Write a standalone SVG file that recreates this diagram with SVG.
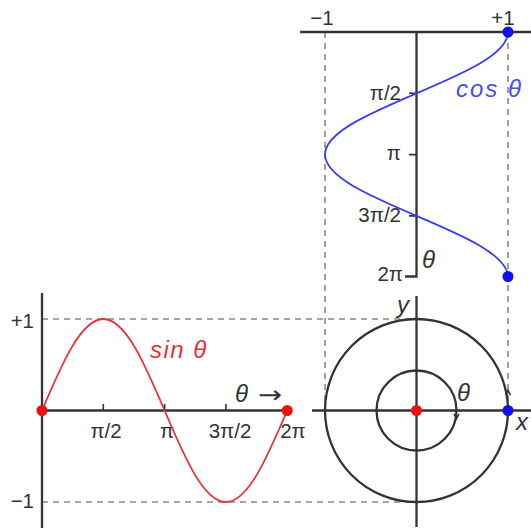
<svg xmlns="http://www.w3.org/2000/svg" width="531" height="530" viewBox="0 0 531 530">
<style>
.ax{stroke:#333;stroke-width:2.3;fill:none}
.tk{stroke:#333;stroke-width:1.6;fill:none}
.dash{stroke:#888;stroke-width:1.6;stroke-dasharray:6 5;fill:none}
.lbl{font-family:"Liberation Sans",Arial,sans-serif;font-size:20.5px;fill:#333}
.it{font-family:"Liberation Sans",Arial,sans-serif;font-size:24px;font-style:italic;fill:#333}
.arr{font-family:"DejaVu Sans",sans-serif;font-size:24px;fill:#333}
.sinc{stroke:#e8303a;stroke-width:1.8;fill:none}
.cosc{stroke:#3c3cf0;stroke-width:1.8;fill:none}
.rdot{fill:#ee1111}
.bdot{fill:#1111ee}
</style>
<rect width="531" height="530" fill="#fff"/>
<g id="guides">
<line class="dash" x1="42" y1="319" x2="416.5" y2="319"/>
<line class="dash" x1="42" y1="502" x2="416.5" y2="502"/>
<line class="dash" x1="325" y1="32" x2="325" y2="410.5"/>
<line class="dash" x1="508" y1="32" x2="508" y2="410.5"/>
</g>
<g id="sine-graph">
<line class="ax" x1="42" y1="293" x2="42" y2="528"/>
<line class="ax" x1="42" y1="410.5" x2="287" y2="410.5"/>
<path class="tk" d="M103.3 404V410.5M164.6 404V410.5M225.9 404V410.5"/>
<text class="lbl" x="34" y="328" text-anchor="end">+1</text>
<text class="lbl" x="34" y="508" text-anchor="end">−1</text>
<text class="lbl" x="106" y="438" text-anchor="middle">π/2</text>
<text class="lbl" x="167" y="438" text-anchor="middle">π</text>
<text class="lbl" x="230" y="438" text-anchor="middle">3π/2</text>
<text class="lbl" x="293" y="438" text-anchor="middle">2π</text>
<path class="sinc" d="M42 410.5C62 363.6 81.1 319 103.3 319C125.5 319 144.6 363.6 164.6 410.5C184.6 457.4 203.7 502 225.9 502C248.1 502 267.2 457.4 287.2 410.5"/>
<text class="it" x="150" y="358" style="fill:#e8303a" letter-spacing="1.5">sin θ</text>
<text class="it" x="235" y="402">θ</text>
<text class="arr" transform="translate(258 403) scale(1.2 1)">→</text>
<circle class="rdot" cx="42" cy="410.5" r="5.5"/>
<circle class="rdot" cx="287.2" cy="410.5" r="5.5"/>
</g>
<g id="cosine-graph">
<line class="ax" x1="300" y1="32" x2="531" y2="32"/>
<path class="ax" d="M416.5 32V276.5H405"/>
<path class="tk" d="M409 93.3H416.5M409 154.6H416.5M409 215.9H416.5"/>
<text class="lbl" x="322" y="25" text-anchor="middle">−1</text>
<text class="lbl" x="503" y="25" text-anchor="middle">+1</text>
<text class="lbl" x="401" y="100" text-anchor="end">π/2</text>
<text class="lbl" x="401" y="160" text-anchor="end">π</text>
<text class="lbl" x="401" y="222" text-anchor="end">3π/2</text>
<text class="lbl" x="403" y="281" text-anchor="end">2π</text>
<text class="it" x="422" y="268">θ</text>
<path class="cosc" d="M508 32C508 54.2 463.4 73.3 416.5 93.3C369.6 113.3 325 132.4 325 154.6C325 176.8 369.6 195.9 416.5 215.9C463.4 235.9 508 255 508 277.2"/>
<text class="it" x="456" y="97" style="fill:#4a4af0" letter-spacing="2">cos θ</text>
<circle class="bdot" cx="508" cy="32" r="5.5"/>
<circle class="bdot" cx="508" cy="276.5" r="5.5"/>
</g>
<g id="unit-circle">
<line class="ax" x1="416.5" y1="296" x2="416.5" y2="527"/>
<line class="ax" x1="312" y1="410.5" x2="531" y2="410.5"/>
<circle class="ax" cx="416.5" cy="410.5" r="91.5"/>
<circle class="ax" cx="416.5" cy="410.5" r="40"/>
<path class="tk" d="M454 414L456.5 418.5L459 414"/>
<path class="tk" d="M505.5 395L508 390.5L510.5 395"/>
<text class="it" x="457" y="401">θ</text>
<text class="it" x="397" y="313">y</text>
<text class="it" x="516" y="430">x</text>
<circle class="rdot" cx="416.5" cy="410.5" r="5.5"/>
<circle class="bdot" cx="508" cy="410.5" r="5.5"/>
</g>
</svg>
